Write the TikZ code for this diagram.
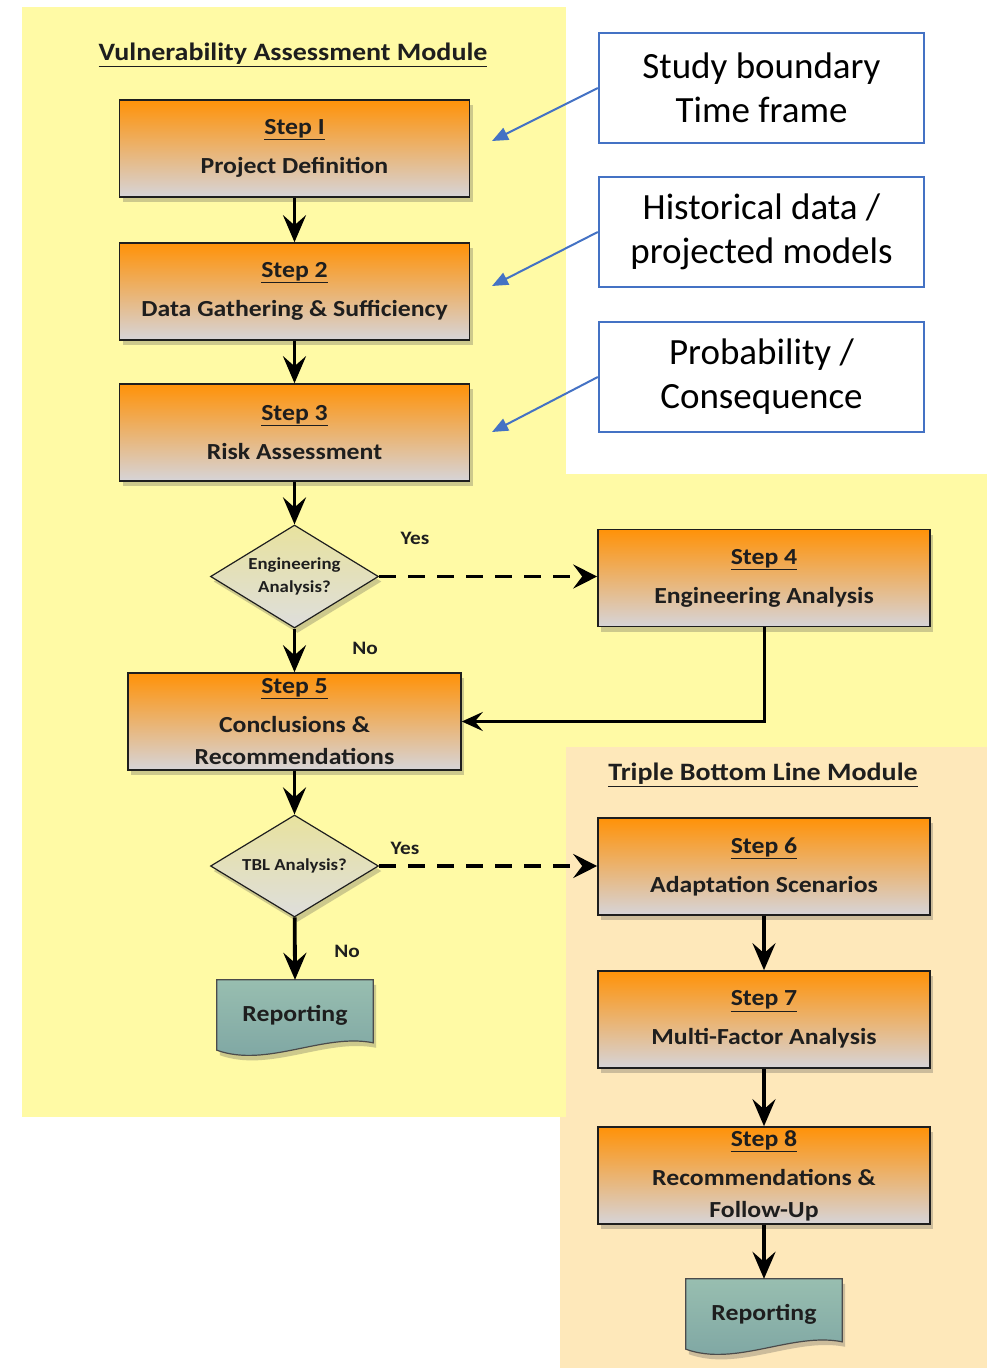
\documentclass[tikz,border=0pt]{standalone}
\usepackage{fontspec}
\setmainfont{Carlito}
\newfontfamily\boxfont[FakeStretch=1.12]{Carlito}
\usetikzlibrary{shapes.geometric,arrows.meta,shadows}
\definecolor{bgyellow}{RGB}{255,250,165}
\definecolor{bgbeige}{RGB}{254,232,186}
\definecolor{stepor}{RGB}{255,146,8}
\definecolor{stepgr}{RGB}{214,212,216}
\definecolor{dtop}{RGB}{232,226,158}
\definecolor{dbot}{RGB}{222,222,220}
\definecolor{reptop}{RGB}{152,190,176}
\definecolor{repbot}{RGB}{124,164,162}
\definecolor{noteblue}{RGB}{68,114,196}
\definecolor{ink}{RGB}{30,30,30}
\begin{document}
\begin{tikzpicture}[x=1pt,y=-1pt,
  shad/.style={drop shadow={shadow xshift=3pt,shadow yshift=-5pt,opacity=0.28,fill=black!70}},
  stepbox/.style={draw=ink,line width=1.6pt,top color=stepor,bottom color=stepgr,
    minimum width=350pt,minimum height=97pt,inner sep=0pt,align=center,text=ink,
    font=\boxfont\fontsize{23}{39}\selectfont\bfseries,shad},
  decide/.style={diamond,aspect=1.63,draw=ink,line width=1.2pt,top color=dtop,bottom color=dbot,
    minimum width=168pt,minimum height=103pt,inner sep=0pt,align=center,text=ink,
    font=\boxfont\fontsize{16.8}{23}\selectfont\bfseries,shad},
  repnode/.style={minimum width=156pt,minimum height=70pt,inner sep=0pt,text=ink,
    font=\boxfont\fontsize{23}{28}\selectfont\bfseries},
  repshape/.style={draw=ink!80,line width=1.2pt,top color=reptop,bottom color=repbot,shad},
  note/.style={draw=noteblue,line width=2.4pt,fill=white,minimum width=325pt,minimum height=110pt,
    inner sep=0pt,align=center,font=\fontsize{37}{44}\selectfont,text=black},
  title/.style={font=\boxfont\fontsize{25}{28}\selectfont\bfseries,text=ink},
  lab/.style={font=\boxfont\fontsize{19}{22}\selectfont\bfseries,text=ink},
  arr/.style={draw=black,line width=3.8pt,-{Stealth[length=27pt,width=23pt,inset=10pt]}},
  darr/.style={draw=black,line width=3.2pt,dash pattern=on 17pt off 12pt,-{Stealth[length=24pt,width=24pt,inset=9pt]}},
  larr/.style={draw=black,line width=3pt,-{Stealth[length=21pt,width=19pt,inset=8pt]}},
  barr/.style={draw=noteblue,line width=2pt,-{Triangle[length=16pt,width=13pt]}}
]
\useasboundingbox (0,0) rectangle (995,1368);
% backgrounds
\fill[bgbeige] (560,747) rectangle (987,1368);
\fill[bgyellow] (22,7) rectangle (566,1117);
\fill[bgyellow] (566,474) rectangle (987,747);

% titles
\node[title] (t1) at (293,55) {\underline{Vulnerability Assessment Module}};
\node[title] (t2) at (763,775) {\underline{Triple Bottom Line Module}};

% left column
\node[stepbox] (s1) at (294.5,148.5) {\underline{Step I}\\Project Definition};
\node[stepbox] (s2) at (294.5,291.5) {\underline{Step 2}\\Data Gathering \& Sufficiency};
\node[stepbox] (s3) at (294.5,432.5) {\underline{Step 3}\\Risk Assessment};
\node[decide] (d1) at (294.5,576.5) {Engineering\\Analysis?};
\node[stepbox,minimum width=333pt] (s5) at (294.5,721.5) {\underline{Step 5}\\Conclusions \&\\[-7pt]Recommendations};
\node[decide,minimum height=102pt] (d2) at (294.5,866) {TBL Analysis?};
\node[repnode] (r1) at (295,1015) {};

% right column
\node[stepbox,minimum width=332pt] (s4) at (764,578) {\underline{Step 4}\\Engineering Analysis};
\node[stepbox,minimum width=332pt] (s6) at (764,866.5) {\underline{Step 6}\\Adaptation Scenarios};
\node[stepbox,minimum width=332pt] (s7) at (764,1019.5) {\underline{Step 7}\\Multi-Factor Analysis};
\node[stepbox,minimum width=332pt] (s8) at (764,1175.5) {\underline{Step 8}\\Recommendations \&\\[-7pt]Follow-Up};
\node[repnode] (r2) at (764,1314) {};

% reporting document shapes
\path[repshape] (r1.south west) |- (r1.north east) -- ++(0,63)
  .. controls +(-50,-10) and +(50,18) .. (r1.south west) -- cycle;
\node[repnode] (r1t) at (r1) {Reporting};
\path[repshape] (r2.south west) |- (r2.north east) -- ++(0,63)
  .. controls +(-50,-10) and +(50,18) .. (r2.south west) -- cycle;
\node[repnode] (r2t) at (r2) {Reporting};

% notes
\node[note] (n1) at (761.5,88) {Study boundary\\Time frame};
\node[note] (n2) at (761.5,232) {Historical data /\\projected models};
\node[note] (n3) at (761.5,377) {Probability /\\Consequence};
\coordinate (p1) at (492,141);
\coordinate (p2) at (492,286);
\coordinate (p3) at (492,432);
\draw[barr] (n1.west) -- (p1);
\draw[barr] (n2.west) -- (p2);
\draw[barr] (n3.west) -- (p3);

% connectors
\draw[arr] (s1) -- (s2);
\draw[arr] (s2) -- (s3);
\draw[arr] (s3) -- (d1);
\draw[arr] (d1) -- (s5);
\draw[darr] (d1.east) -- (d1.east -| s4.west);
\draw[larr] (s4.south) |- (s5.east);
\draw[arr] (s5) -- (d2);
\draw[arr] (d2) -- (r1.north);
\draw[darr] (d2.east) -- (d2.east -| s6.west);
\draw[arr] (s6) -- (s7);
\draw[arr] (s7) -- (s8);
\draw[arr] (s8) -- (r2.north);

% labels
\node[lab] (y1) at (415,538) {Yes};
\node[lab] (no1) at (365,648) {No};
\node[lab] (y2) at (405,848) {Yes};
\node[lab] (no2) at (347,951) {No};
\end{tikzpicture}
\end{document}
